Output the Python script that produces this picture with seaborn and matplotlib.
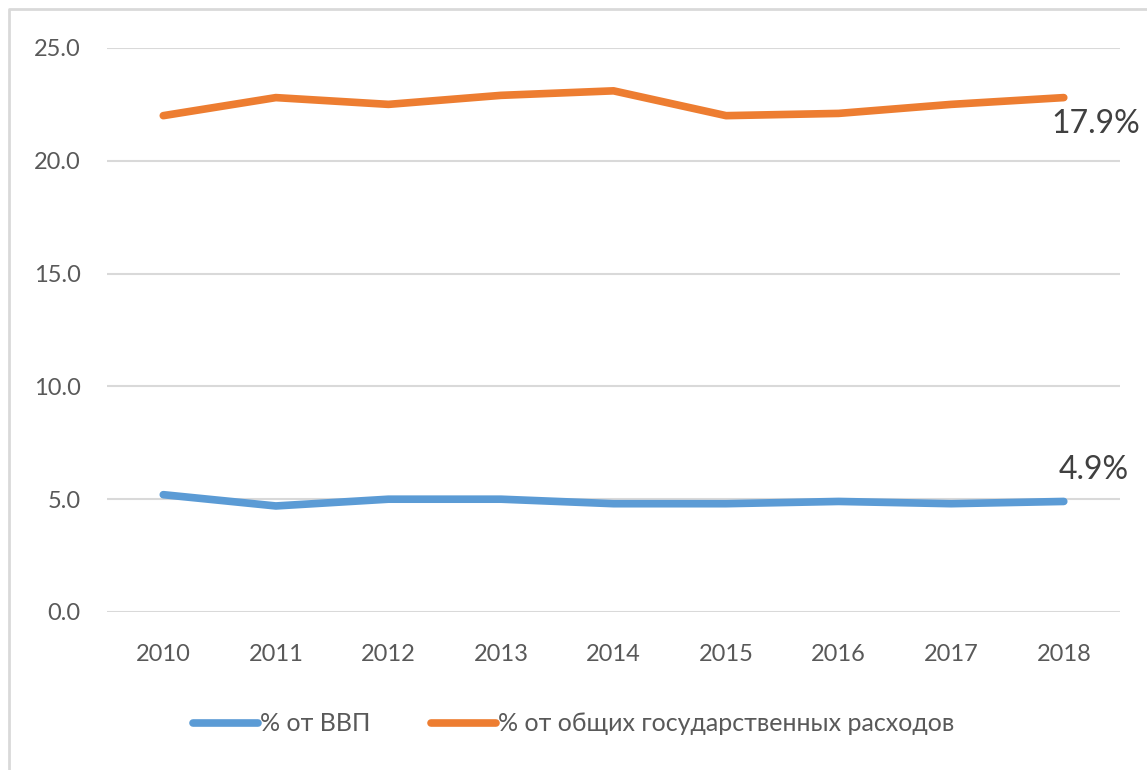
import pandas as pd
import matplotlib.pyplot as plt
import seaborn as sns
from matplotlib.lines import Line2D

years = ['2010', '2011', '2012', '2013', '2014', '2015', '2016', '2017', '2018']
gdp_share = [5.2, 4.7, 5.0, 5.0, 4.8, 4.8, 4.9, 4.8, 4.9]
spend_share = [22.0, 22.8, 22.5, 22.9, 23.1, 22.0, 22.1, 22.5, 22.8]
series_names = ['% от ВВП', '% от общих государственных расходов']
end_labels = ['4.9%', '17.9%']
y_ticks = [0, 5, 10, 15, 20, 25]

df = pd.DataFrame({
    'year': years * 2,
    'value': gdp_share + spend_share,
    'series': [series_names[0]] * len(years) + [series_names[1]] * len(years),
})

sns.set_theme(style='white')
plt.rcParams['font.family'] = ['Lato', 'DejaVu Sans']

fig = plt.figure(figsize=(11.47, 7.7), dpi=100)
ax = fig.add_axes([0.0933, 0.2052, 0.8832, 0.7325])

palette = {series_names[0]: '#5B9BD5', series_names[1]: '#ED7D31'}
sns.lineplot(data=df, x='year', y='value', hue='series', palette=palette,
             linewidth=5.5, sort=False, ax=ax, solid_capstyle='round')

ax.set_xlim(-0.5, len(years) - 0.5)
ax.set_ylim(0, 25)
ax.set_yticks(y_ticks)
ax.set_yticklabels([f'{t:.1f}' for t in y_ticks])
ax.yaxis.grid(True, color='#D9D9D9', linewidth=1.5)
ax.set_axisbelow(True)
for s in ax.spines.values():
    s.set_visible(False)
ax.tick_params(axis='both', length=0, labelsize=17, labelcolor='#595959')
ax.tick_params(axis='y', pad=19)
ax.tick_params(axis='x', pad=23)
ax.set_xlabel('')
ax.set_ylabel('')

# end-of-line labels
ax.annotate(end_labels[0], xy=(len(years) - 1, gdp_share[-1]), xytext=(-4, 12),
            textcoords='offset points', ha='left', va='bottom',
            fontsize=23, color='#404040')
ax.annotate(end_labels[1], xy=(len(years) - 1, spend_share[-1]), xytext=(-9, -8),
            textcoords='offset points', ha='left', va='top',
            fontsize=23, color='#404040')

handles, labels = ax.get_legend_handles_labels()
ax.legend(handles, labels, loc='center', bbox_to_anchor=(0.5, 0.06),
          bbox_transform=fig.transFigure, ncol=2, frameon=False,
          fontsize=18, labelcolor='#595959', handlelength=2.6,
          handletextpad=0.1, columnspacing=2.4)

# chart frame (only top and left edges visible in the crop)
fig.lines.append(Line2D([0.008, 0.008, 1.0], [0.0, 0.988, 0.988], transform=fig.transFigure,
                        color='#D9D9D9', linewidth=2))

fig.savefig('out.png', dpi=100)
